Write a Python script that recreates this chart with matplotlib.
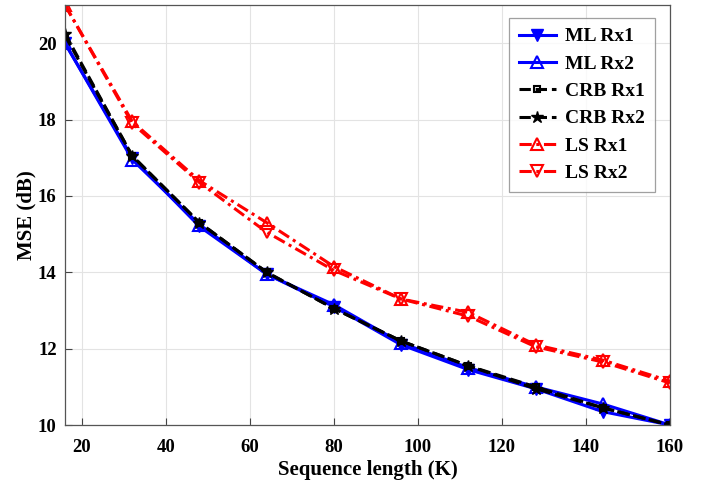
import matplotlib
matplotlib.use('Agg')
import matplotlib.pyplot as plt

plt.rcParams['font.family'] = ['Liberation Serif', 'DejaVu Serif']
plt.rcParams['font.weight'] = 'bold'

K = [16, 32, 48, 64, 80, 96, 112, 128, 144, 160]

ml_rx1 = [20.0, 17.0, 15.2, 13.95, 13.1, 12.1, 11.45, 10.95, 10.35, 10.0]
ml_rx2 = [20.0, 16.95, 15.25, 13.95, 13.15, 12.15, 11.5, 11.0, 10.55, 10.0]
crb_rx1 = [20.2, 17.05, 15.3, 14.0, 13.05, 12.2, 11.55, 11.0, 10.45, 10.0]
crb_rx2 = [20.25, 17.05, 15.3, 14.0, 13.05, 12.2, 11.55, 10.95, 10.45, 10.0]
ls_rx1 = [21.0, 17.95, 16.4, 15.3, 14.15, 13.3, 12.95, 12.1, 11.7, 11.15]
ls_rx2 = [21.0, 17.9, 16.35, 15.05, 14.05, 13.3, 12.85, 12.05, 11.65, 11.1]

fig = plt.figure(figsize=(7.05, 4.87), dpi=100)
ax = fig.add_axes([65/705, 62/487, 605/705, 420/487])

dashdot = (0, (4, 1.5, 1, 1.5))
ax.plot(K, ml_rx1, color='blue', marker='v', ms=8, lw=2.2, mfc='blue', label='ML Rx1')
ax.plot(K, ml_rx2, color='blue', marker='^', ms=8, lw=2.2, mfc='none', mew=1.5, label='ML Rx2')
ax.plot(K, crb_rx1, color='black', ls='--', marker='s', ms=5, lw=2.2, mfc='none', mew=1.5, label='CRB Rx1')
ax.plot(K, crb_rx2, color='black', ls='--', marker='*', ms=9, lw=2.2, label='CRB Rx2')
ax.plot(K, ls_rx1, color='red', ls=dashdot, marker='^', ms=8, lw=2.2, mfc='none', mew=1.5, label='LS Rx1')
ax.plot(K, ls_rx2, color='red', ls=dashdot, marker='v', ms=8, lw=2.2, mfc='none', mew=1.5, label='LS Rx2')

ax.set_xlim(16, 160)
ax.set_ylim(10, 21)
ax.set_xticks(range(20, 161, 20))
ax.set_yticks(range(10, 21, 2))
ax.tick_params(direction='in', labelsize=13.5, length=5, color='#444444')
ax.tick_params(axis='x', pad=10)
ax.tick_params(axis='y', pad=6)
for lab in ax.get_xticklabels() + ax.get_yticklabels():
    lab.set_fontweight('bold')
ax.grid(True, color='#e3e3e3', lw=0.8)
for s in ax.spines.values():
    s.set_color('#555555')
    s.set_linewidth(0.9)

ax.set_xlabel('Sequence length (K)', fontsize=15, fontweight='bold', labelpad=3)
ax.set_ylabel('MSE (dB)', fontsize=15, fontweight='bold', labelpad=1)

leg = ax.legend(loc='upper right', handlelength=1.9, borderpad=0.5,
                labelspacing=0.5, fancybox=False, edgecolor='#888888',
                borderaxespad=0, handletextpad=0.5,
                bbox_to_anchor=(0.975, 0.969), prop={'weight': 'bold', 'size': 14})
leg.get_frame().set_linewidth(0.9)

fig.savefig('out.png', dpi=100)
